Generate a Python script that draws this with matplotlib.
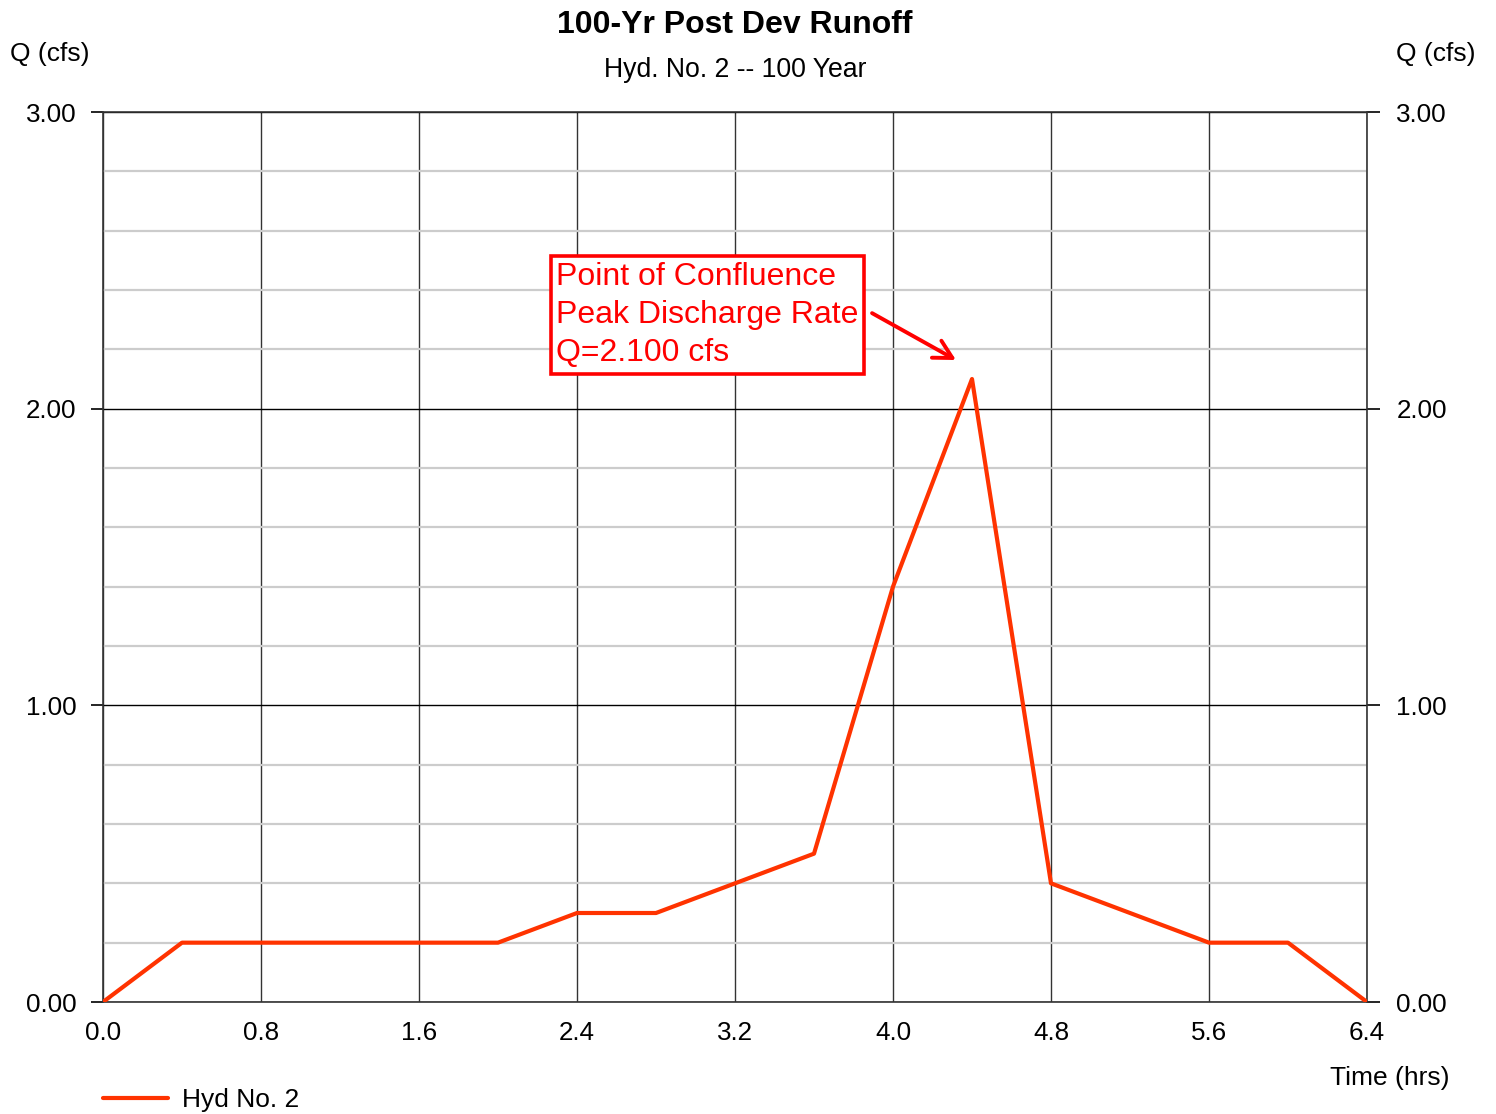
import numpy as np
import matplotlib.pyplot as plt
import matplotlib.transforms as mtransforms
from matplotlib.ticker import MultipleLocator, FormatStrFormatter

plt.rcParams['font.family'] = ['Liberation Sans', 'DejaVu Sans']

# hydrograph ordinates, every 0.4 hrs
time_hrs = [0.0, 0.4, 0.8, 1.2, 1.6, 2.0, 2.4, 2.8, 3.2, 3.6, 4.0, 4.4, 4.8, 5.2, 5.6, 6.0, 6.4]
flow_cfs = [0.0, 0.2, 0.2, 0.2, 0.2, 0.2, 0.3, 0.3, 0.4, 0.5, 1.4, 2.1, 0.4, 0.3, 0.2, 0.2, 0.0]
series_name = 'Hyd No. 2'
peak_text = 'Point of Confluence\nPeak Discharge Rate\nQ=2.100 cfs'

W, H = 1496, 1114
fig = plt.figure(figsize=(W / 100, H / 100), dpi=100)
ax = fig.add_axes([103 / W, 1 - 1002 / H, (1367 - 103) / W, (1002 - 112) / H])

ax.set_xlim(0, 6.4)
ax.set_ylim(0, 3.0)
ax.xaxis.set_major_locator(MultipleLocator(0.8))
ax.yaxis.set_major_locator(MultipleLocator(1.0))
ax.yaxis.set_minor_locator(MultipleLocator(0.2))
ax.xaxis.set_major_formatter(FormatStrFormatter('%.1f'))
ax.yaxis.set_major_formatter(FormatStrFormatter('%.2f'))

ax.grid(which='minor', axis='y', color='#cccccc', linewidth=1.6)
ax.grid(which='major', axis='y', color='black', linewidth=1.0)
ax.grid(which='major', axis='x', color='#333333', linewidth=1.0)
ax.set_axisbelow(True)

ax.tick_params(axis='y', which='major', direction='out', length=9, width=1.2,
               pad=10, labelsize=18.7, left=True, right=True, labelleft=True, labelright=True)
ax.tick_params(axis='y', which='minor', length=0)
ax.tick_params(axis='x', length=0, pad=14, labelsize=18.7)
for s in ax.spines.values():
    s.set_color('#333333')
    s.set_linewidth(1.2)

# nudge right-hand labels a little further out
nudge = mtransforms.ScaledTranslation(3 / 100, 0, fig.dpi_scale_trans)
for t in ax.yaxis.get_major_ticks():
    t.label2.set_transform(t.label2.get_transform() + nudge)

ax.plot(time_hrs, flow_cfs, color='#ff3300', linewidth=3, label=series_name,
        solid_capstyle='round', zorder=3)

# peak annotation
ax.text(2.295, 2.496, peak_text, color='red', fontsize=23, ha='left', va='top',
        linespacing=1.36,
        bbox=dict(boxstyle='square,pad=0.18', facecolor='white', edgecolor='red', linewidth=2.6),
        zorder=4)
ax.annotate('', xy=(4.319, 2.164), xytext=(3.894, 2.322),
            arrowprops=dict(arrowstyle='->,head_length=1.3,head_width=0.7', color='red', lw=2.8,
                            shrinkA=0, shrinkB=0),
            zorder=4)

fig.text(735 / W, 1 - 33 / H, '100-Yr Post Dev Runoff', ha='center', va='baseline',
         fontsize=23, fontweight='bold')
fig.text(735 / W, 1 - 77 / H, 'Hyd. No. 2 -- 100 Year', ha='center', va='baseline', fontsize=19.2)
fig.text(10 / W, 1 - 54 / H, 'Q (cfs)', ha='left', va='center', fontsize=19)
fig.text(1476 / W, 1 - 54 / H, 'Q (cfs)', ha='right', va='center', fontsize=19)
fig.text(1450 / W, 1 - 1078 / H, 'Time (hrs)', ha='right', va='center', fontsize=19)

fig.legend(loc='center left', bbox_to_anchor=(103 / W, 1 - 1100 / H), frameon=False,
           fontsize=19, handlelength=2.45, handletextpad=0.55, borderaxespad=0, borderpad=0)

fig.savefig('out.png', dpi=100)
